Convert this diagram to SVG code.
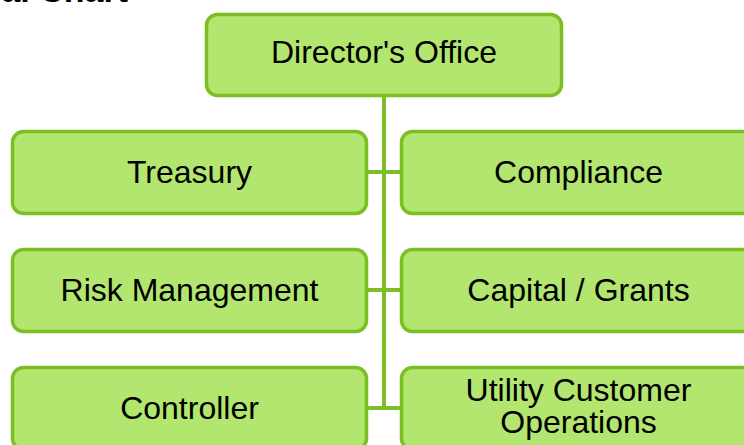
<svg xmlns="http://www.w3.org/2000/svg" width="744" height="445" viewBox="0 0 744 445">
<style>
.box{fill:#b2e66e;stroke:#7bbf24;stroke-width:3.5}
.lbl{font-family:"Liberation Sans",Arial,sans-serif;font-size:32px;fill:#000;text-anchor:middle}
.conn{stroke:#7bbf24;stroke-width:4;fill:none}
.title{font-family:"Liberation Sans",Arial,sans-serif;font-size:34px;font-weight:bold;fill:#000;text-anchor:end}
</style>
<rect width="744" height="445" fill="#fff"/>
<text class="title" x="128" y="1.5">Organizational Chart</text>
<g id="connectors">
<path class="conn" d="M384 96 V408"/>
<path class="conn" d="M367 172 H401 M367 290 H401 M367 408 H401"/>
</g>
<g id="directors-office">
<rect class="box" x="206.5" y="14.5" width="355" height="81" rx="11"/>
<text class="lbl" x="384" y="63">Director's Office</text>
</g>
<g id="treasury">
<rect class="box" x="12.5" y="131.5" width="354" height="82" rx="11"/>
<text class="lbl" x="189.5" y="183">Treasury</text>
</g>
<g id="compliance">
<rect class="box" x="401.5" y="131.5" width="354" height="82" rx="11"/>
<text class="lbl" x="578.5" y="183">Compliance</text>
</g>
<g id="risk-management">
<rect class="box" x="12.5" y="249.5" width="354" height="82" rx="11"/>
<text class="lbl" x="189.5" y="301">Risk Management</text>
</g>
<g id="capital-grants">
<rect class="box" x="401.5" y="249.5" width="354" height="82" rx="11"/>
<text class="lbl" x="578.5" y="301">Capital / Grants</text>
</g>
<g id="controller">
<rect class="box" x="12.5" y="367.5" width="354" height="82" rx="11"/>
<text class="lbl" x="189.5" y="419">Controller</text>
</g>
<g id="utility-customer-operations">
<rect class="box" x="401.5" y="367.5" width="354" height="82" rx="11"/>
<text class="lbl" x="578.5" y="401">Utility Customer</text>
<text class="lbl" x="578.5" y="433">Operations</text>
</g>
</svg>
